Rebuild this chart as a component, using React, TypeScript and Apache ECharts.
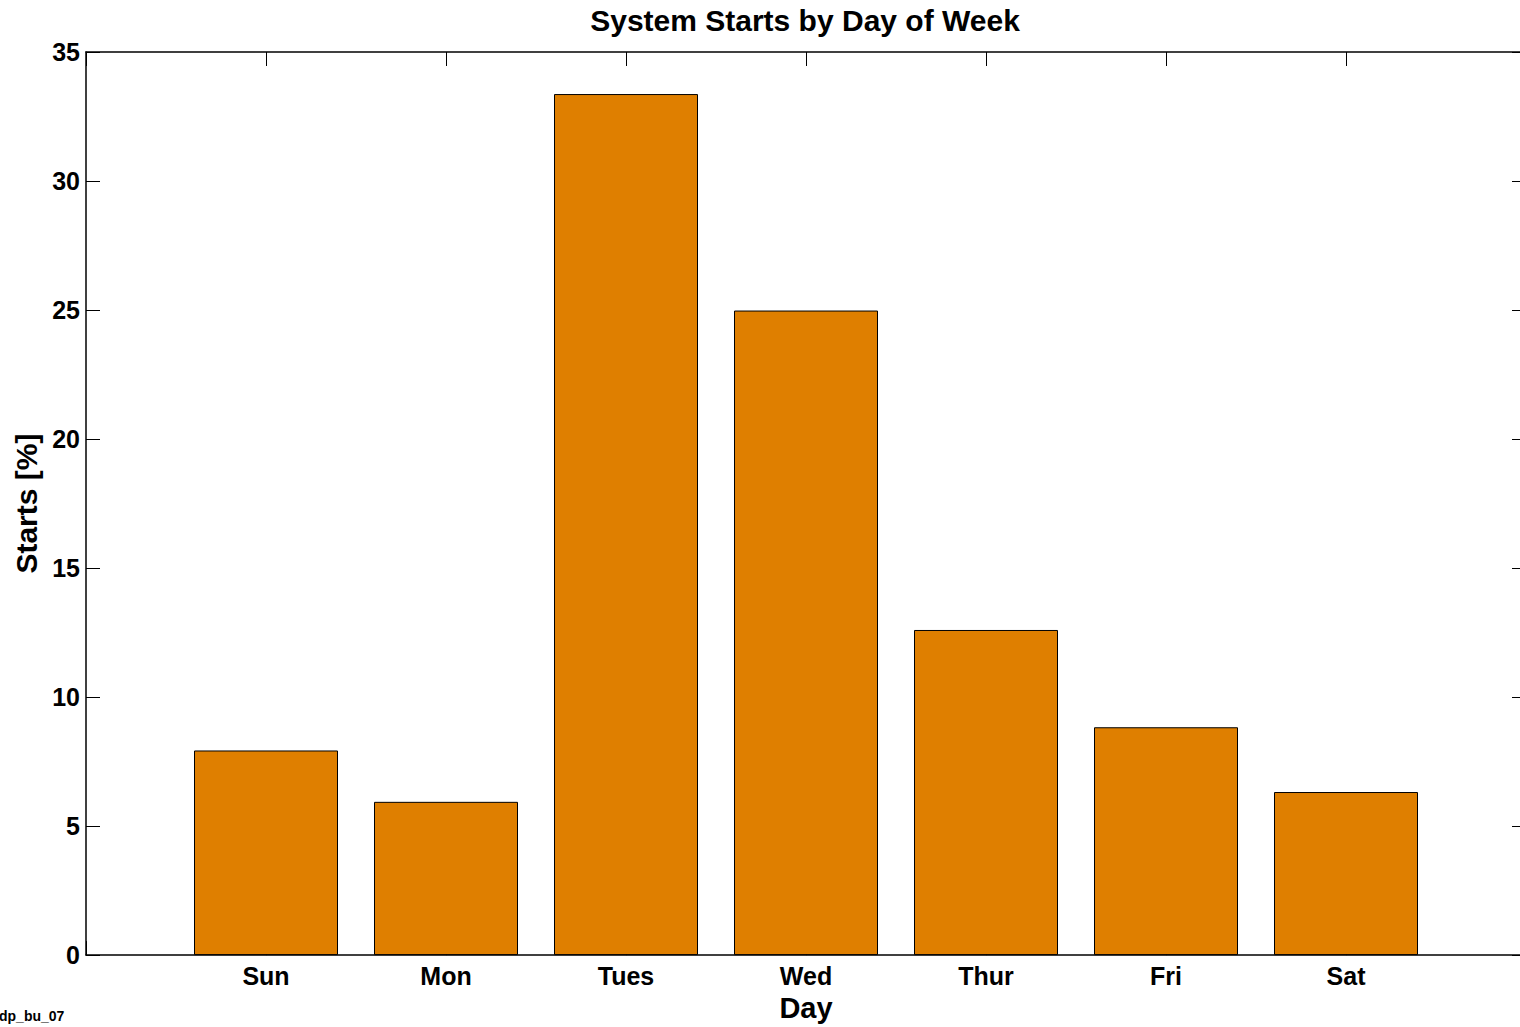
import React, { useEffect, useRef } from "react";
import * as echarts from "echarts";

const days = ["Sun", "Mon", "Tues", "Wed", "Thur", "Fri", "Sat"];
const positions = [1, 2, 3, 4, 5, 6, 7];
const starts = [7.93, 5.94, 33.37, 24.98, 12.6, 8.83, 6.32];
const yTicks = { min: 0, max: 35, interval: 5 };

const FONT = "'Liberation Sans', Arial, Helvetica, sans-serif";

const tick = () => ({ show: true, inside: true, length: 14, lineStyle: { color: "#000", width: 1 } });
const line = () => ({ show: true, onZero: false, lineStyle: { color: "#000", width: 1.5 } });

export default function App() {
  const ref = useRef<HTMLDivElement>(null);
  useEffect(() => {
    if (!ref.current) return;
    const chart = echarts.init(ref.current, undefined, { renderer: "svg" });
    chart.setOption({
      animation: false,
      backgroundColor: "#fff",
      textStyle: { fontFamily: FONT, color: "#000" },
      title: {
        text: "System Starts by Day of Week",
        left: 800,
        top: 0,
        textAlign: "center",
        textStyle: { fontFamily: FONT, fontSize: 30, fontWeight: "bold", color: "#000" },
      },
      graphic: [
        {
          type: "text",
          left: -1,
          top: 1009,
          style: { text: "dp_bu_07", font: `bold 14px ${FONT}`, fill: "#000" },
        },
      ],
      grid: { left: 86, top: 52, right: 14, height: 908, containLabel: false },
      xAxis: [
        {
          type: "value",
          position: "bottom",
          min: 0,
          max: 8,
          interval: 1,
          name: "Day",
          nameLocation: "middle",
          nameGap: 36,
          nameTextStyle: { fontFamily: FONT, fontSize: 29, fontWeight: "bold", color: "#000" },
          axisLine: line(),
          axisTick: tick(),
          splitLine: { show: false },
          axisLabel: {
            margin: 8,
            fontFamily: FONT,
            fontSize: 25,
            fontWeight: "bold",
            color: "#000",
            formatter: (v: number) => {
              const i = positions.indexOf(v);
              return i >= 0 ? days[i] : "";
            },
          },
        },
        {
          type: "value",
          position: "top",
          min: 0,
          max: 8,
          interval: 1,
          axisLine: line(),
          axisTick: tick(),
          axisLabel: { show: false },
          splitLine: { show: false },
        },
      ],
      yAxis: [
        {
          type: "value",
          position: "left",
          min: yTicks.min,
          max: yTicks.max,
          interval: yTicks.interval,
          name: "Starts [%]",
          nameLocation: "middle",
          nameGap: 44,
          nameTextStyle: { fontFamily: FONT, fontSize: 30, fontWeight: "bold", color: "#000" },
          axisLine: line(),
          axisTick: tick(),
          splitLine: { show: false },
          axisLabel: { margin: 6, fontFamily: FONT, fontSize: 25, fontWeight: "bold", color: "#000" },
        },
        {
          type: "value",
          position: "right",
          min: yTicks.min,
          max: yTicks.max,
          interval: yTicks.interval,
          axisLine: line(),
          axisTick: tick(),
          axisLabel: { show: false },
          splitLine: { show: false },
        },
      ],
      series: [
        {
          type: "bar",
          xAxisIndex: 0,
          yAxisIndex: 0,
          barWidth: 144,
          data: positions.map((p, i) => [p, starts[i]]),
          itemStyle: { color: "#DF7F00", borderColor: "#000", borderWidth: 1 },
        },
      ],
    });
    return () => chart.dispose();
  }, []);
  return (
    <div style={{ position: "fixed", left: 0, top: 0, width: 1520, height: 1027, overflow: "hidden", background: "#fff" }}>
      <div ref={ref} style={{ width: 1540, height: 1027 }} />
    </div>
  );
}
